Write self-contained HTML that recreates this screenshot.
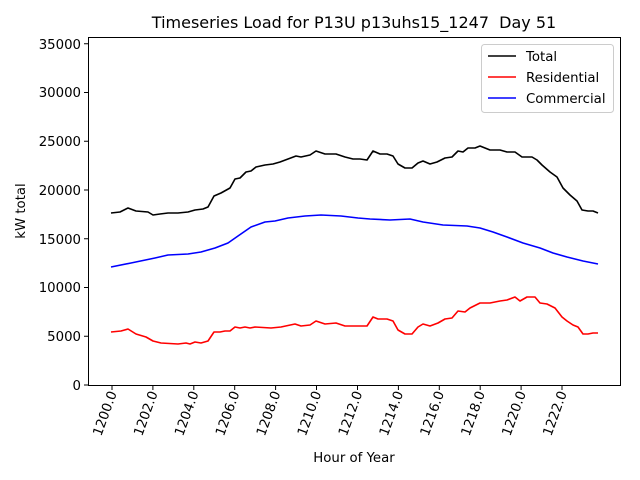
<!DOCTYPE html>
<html><head><meta charset="utf-8"><style>body{margin:0;background:#fff}svg{display:block;font-family:"DejaVu Sans","Liberation Sans",sans-serif}</style></head>
<body>
<svg width="640" height="480" viewBox="0 0 640 480" xmlns="http://www.w3.org/2000/svg">
<rect width="640" height="480" fill="#fff"/>
<text x="354" y="28" font-size="16" text-anchor="middle">Timeseries Load for P13U p13uhs15_1247 &#160;Day 51</text>
<g fill="none" stroke-width="1.6" stroke-linejoin="round">
<polyline stroke="#000" points="111,213 120,212 128,208 136,211 148,212 153,215 160,214 168,213 178,213 188,212 195,210 203,209 208,207 214,196 221,193 230,188 235,179 240,178 246,172 251,171 256,167 265,165 273,164 280,162 288,159 296,156 301,157 310,155 316,151 325,154 336,154 345,157 353,159 360,159 367,160 373,151 380,154 387,154 393,156 398,164 405,168 412,168 418,163 423,161 430,164 437,162 445,158 452,157 458,151 463,152 468,148 475,148 480,146 490,150 500,150 507,152 515,152 522,157 532,157 537,160 542,165 550,172 557,177 563,188 570,195 577,201 582,210 588,211 593,211 598,213"/>
<polyline stroke="#0000ff" points="111,267 131,263 155,258 168,255 188,254 201,252 215,248 228,243 238,236 251,227 265,222 275,221 288,218 305,216 321,215 341,216 358,218 370,219 390,220 410,219 423,222 443,225 467,226 480,228 493,232 507,237 523,243 540,248 553,253 567,257 583,261 598,264"/>
<polyline stroke="#ff0000" points="111,332 121,331 128,329 136,334 146,337 153,341 161,343 178,344 186,343 190,344 195,342 201,343 208,341 214,332 220,332 225,331 230,331 235,327 240,328 245,327 250,328 255,327 271,328 281,327 295,324 301,326 310,325 316,321 325,324 336,323 345,326 358,326 367,326 373,317 378,319 387,319 393,321 398,330 405,334 412,334 418,327 423,324 430,326 438,323 445,319 452,318 458,311 465,312 470,308 480,303 490,303 500,301 507,300 515,297 520,301 527,297 535,297 540,303 547,304 555,308 562,317 567,321 573,325 578,327 583,334 588,334 593,333 598,333"/>
</g>
<rect x="88.5" y="37.5" width="532" height="348" fill="none" stroke="#000" stroke-width="1"/>
<g stroke="#000" stroke-width="1">
<line x1="88" y1="385" x2="84" y2="385"/><line x1="88" y1="336.25" x2="84" y2="336.25"/><line x1="88" y1="287.5" x2="84" y2="287.5"/><line x1="88" y1="238.75" x2="84" y2="238.75"/><line x1="88" y1="190" x2="84" y2="190"/><line x1="88" y1="141.25" x2="84" y2="141.25"/><line x1="88" y1="92.5" x2="84" y2="92.5"/><line x1="88" y1="43.75" x2="84" y2="43.75"/>
</g>
<g font-size="13.3" text-anchor="end">
<text x="81" y="390">0</text><text x="81" y="341">5000</text><text x="81" y="292">10000</text><text x="81" y="244">15000</text><text x="81" y="195">20000</text><text x="81" y="146">25000</text><text x="81" y="97">30000</text><text x="81" y="49">35000</text>
</g>
<g stroke="#000" stroke-width="1">
<line x1="112" y1="386" x2="112" y2="390"/><line x1="152.9" y1="386" x2="152.9" y2="390"/><line x1="193.8" y1="386" x2="193.8" y2="390"/><line x1="234.7" y1="386" x2="234.7" y2="390"/><line x1="275.6" y1="386" x2="275.6" y2="390"/><line x1="316.5" y1="386" x2="316.5" y2="390"/><line x1="357.5" y1="386" x2="357.5" y2="390"/><line x1="398.4" y1="386" x2="398.4" y2="390"/><line x1="439.3" y1="386" x2="439.3" y2="390"/><line x1="480.2" y1="386" x2="480.2" y2="390"/><line x1="521.1" y1="386" x2="521.1" y2="390"/><line x1="562" y1="386" x2="562" y2="390"/>
</g>
<g font-size="13.3" text-anchor="end">
<text transform="translate(117,393) rotate(-70)">1200.0</text>
<text transform="translate(157.9,393) rotate(-70)">1202.0</text>
<text transform="translate(198.8,393) rotate(-70)">1204.0</text>
<text transform="translate(239.7,393) rotate(-70)">1206.0</text>
<text transform="translate(280.6,393) rotate(-70)">1208.0</text>
<text transform="translate(321.5,393) rotate(-70)">1210.0</text>
<text transform="translate(362.5,393) rotate(-70)">1212.0</text>
<text transform="translate(403.4,393) rotate(-70)">1214.0</text>
<text transform="translate(444.3,393) rotate(-70)">1216.0</text>
<text transform="translate(485.2,393) rotate(-70)">1218.0</text>
<text transform="translate(526.1,393) rotate(-70)">1220.0</text>
<text transform="translate(567,393) rotate(-70)">1222.0</text>
</g>
<text x="354" y="462" font-size="13.3" text-anchor="middle">Hour of Year</text>
<text transform="translate(25,211) rotate(-90)" font-size="13.3" text-anchor="middle">kW total</text>
<rect x="481.5" y="44.5" width="132" height="68" rx="3" fill="#fff" fill-opacity="0.8" stroke="#ccc"/>
<g stroke-width="1.6">
<line x1="488" y1="56" x2="516" y2="56" stroke="#000"/>
<line x1="488" y1="77" x2="516" y2="77" stroke="#ff0000"/>
<line x1="488" y1="98" x2="516" y2="98" stroke="#0000ff"/>
</g>
<g font-size="13.3">
<text x="526" y="61">Total</text><text x="526" y="82">Residential</text><text x="526" y="103">Commercial</text>
</g>
</svg>
</body></html>
